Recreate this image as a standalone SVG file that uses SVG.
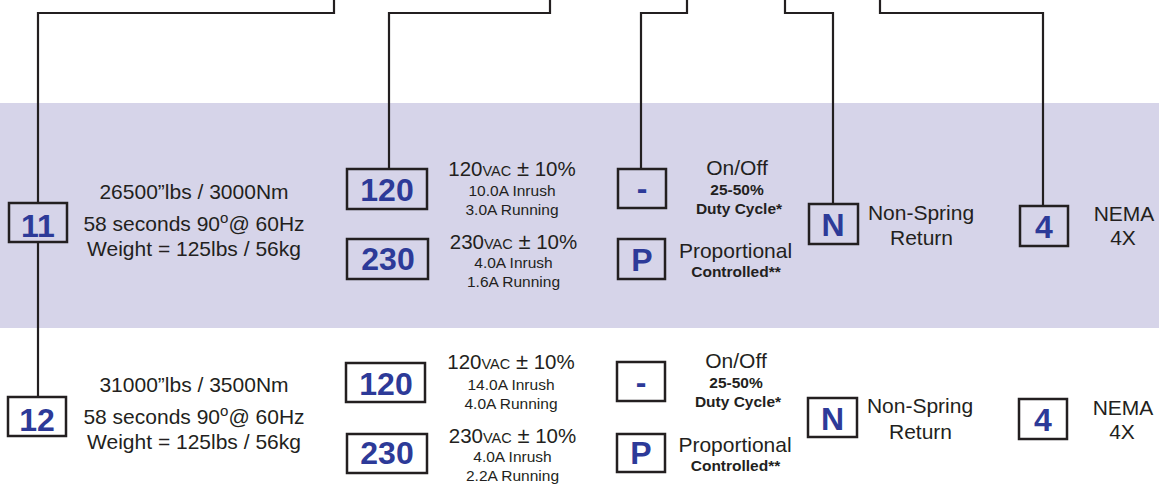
<svg xmlns="http://www.w3.org/2000/svg" width="1159" height="485" viewBox="0 0 1159 485">
<style>
.ln{fill:none;stroke:#231f20;stroke-width:2.2;stroke-linejoin:miter}
.bx{fill:none;stroke:#231f20;stroke-width:2.5}
.code{font-family:"Liberation Sans",Arial,sans-serif;font-weight:bold;font-size:32px;fill:#2d3a98;text-anchor:middle}
.big{font-family:"Liberation Sans",Arial,sans-serif;font-size:21px;fill:#231f20;text-anchor:middle}
.v{font-family:"Liberation Sans",Arial,sans-serif;font-size:20.5px;fill:#231f20;text-anchor:middle}
.vac{font-size:14.5px}
.pm{font-size:22px}
.sm{font-family:"Liberation Sans",Arial,sans-serif;font-size:15.5px;fill:#231f20;text-anchor:middle}
.sb{font-family:"Liberation Sans",Arial,sans-serif;font-size:15.5px;font-weight:bold;fill:#231f20;text-anchor:middle}
.sup{font-size:15px}
</style>
<rect x="0" y="103" width="1159" height="225" fill="#d6d4e9"/>
<g id="connectors">
<path class="ln" d="M334,-2 V13 H38 V203"/>
<path class="ln" d="M38,242 V397"/>
<path class="ln" d="M550,-2 V13 H389 V169"/>
<path class="ln" d="M687,-2 V13 H641 V169"/>
<path class="ln" d="M785,-2 V13 H833 V204"/>
<path class="ln" d="M880,-2 V13 H1043 V206"/>
</g>
<g id="model-11">
<rect class="bx" x="9" y="203" width="58" height="39"/>
<text class="code" x="38" y="237">11</text>
<text class="big" x="194" y="199">26500”lbs / 3000Nm</text>
<text class="big" x="194" y="231">58 seconds 90<tspan class="sup" dy="-8">o</tspan><tspan dy="8">@ 60Hz</tspan></text>
<text class="big" x="194" y="256">Weight = 125lbs / 56kg</text>
</g>
<g id="v120-a">
<rect class="bx" x="347" y="169" width="80" height="40"/>
<text class="code" x="387" y="201">120</text>
<text class="v" x="512" y="176">120<tspan class="vac">VAC</tspan> <tspan class="pm">±</tspan> 10%</text>
<text class="sm" x="512" y="196">10.0A Inrush</text>
<text class="sm" x="512" y="214.5">3.0A Running</text>
</g>
<g id="v230-a">
<rect class="bx" x="347" y="239" width="81" height="40"/>
<text class="code" x="388" y="269.5">230</text>
<text class="v" x="513.5" y="249.3">230<tspan class="vac">VAC</tspan> <tspan class="pm">±</tspan> 10%</text>
<text class="sm" x="513.5" y="268.3">4.0A Inrush</text>
<text class="sm" x="513.5" y="286.7">1.6A Running</text>
</g>
<g id="onoff-a">
<rect class="bx" x="618" y="169" width="48" height="39"/>
<text class="code" x="642" y="199">-</text>
<text class="big" x="737" y="175">On/Off</text>
<text class="sb" x="737" y="195">25-50%</text>
<text class="sb" x="739" y="214">Duty Cycle*</text>
</g>
<g id="prop-a">
<rect class="bx" x="618" y="239" width="47" height="40"/>
<text class="code" x="642" y="270.5">P</text>
<text class="big" x="735.5" y="258">Proportional</text>
<text class="sb" x="736" y="277">Controlled**</text>
</g>
<g id="spring-a">
<rect class="bx" x="809" y="204" width="49" height="40"/>
<text class="code" x="833" y="236">N</text>
<text class="big" x="921" y="220">Non-Spring</text>
<text class="big" x="921.5" y="245">Return</text>
</g>
<g id="nema-a">
<rect class="bx" x="1020" y="206" width="48" height="40"/>
<text class="code" x="1044" y="237.5">4</text>
<text class="big" x="1124" y="220.5">NEMA</text>
<text class="big" x="1123" y="245">4X</text>
</g>
<g id="model-12">
<rect class="bx" x="8" y="397" width="58" height="39"/>
<text class="code" x="37" y="431">12</text>
<text class="big" x="194" y="392">31000”lbs / 3500Nm</text>
<text class="big" x="194" y="423.5">58 seconds 90<tspan class="sup" dy="-8">o</tspan><tspan dy="8">@ 60Hz</tspan></text>
<text class="big" x="194" y="448.5">Weight = 125lbs / 56kg</text>
</g>
<g id="v120-b">
<rect class="bx" x="346" y="363" width="79" height="39"/>
<text class="code" x="386" y="395">120</text>
<text class="v" x="511" y="369">120<tspan class="vac">VAC</tspan> <tspan class="pm">±</tspan> 10%</text>
<text class="sm" x="511" y="390">14.0A Inrush</text>
<text class="sm" x="511" y="408.5">4.0A Running</text>
</g>
<g id="v230-b">
<rect class="bx" x="347" y="434" width="80" height="39"/>
<text class="code" x="387" y="464">230</text>
<text class="v" x="512.5" y="443">230<tspan class="vac">VAC</tspan> <tspan class="pm">±</tspan> 10%</text>
<text class="sm" x="512.5" y="462">4.0A Inrush</text>
<text class="sm" x="512.5" y="480.5">2.2A Running</text>
</g>
<g id="onoff-b">
<rect class="bx" x="617" y="362" width="48" height="39"/>
<text class="code" x="641" y="392.5">-</text>
<text class="big" x="736" y="368">On/Off</text>
<text class="sb" x="736" y="388">25-50%</text>
<text class="sb" x="738" y="407">Duty Cycle*</text>
</g>
<g id="prop-b">
<rect class="bx" x="617" y="434" width="48" height="38"/>
<text class="code" x="641" y="464">P</text>
<text class="big" x="735" y="451.5">Proportional</text>
<text class="sb" x="735.5" y="470.5">Controlled**</text>
</g>
<g id="spring-b">
<rect class="bx" x="808" y="398" width="49" height="39"/>
<text class="code" x="832.5" y="429.5">N</text>
<text class="big" x="920" y="413">Non-Spring</text>
<text class="big" x="920.5" y="438.5">Return</text>
</g>
<g id="nema-b">
<rect class="bx" x="1019" y="399" width="48" height="40"/>
<text class="code" x="1043" y="431">4</text>
<text class="big" x="1123" y="414.5">NEMA</text>
<text class="big" x="1122" y="439">4X</text>
</g>
</svg>
